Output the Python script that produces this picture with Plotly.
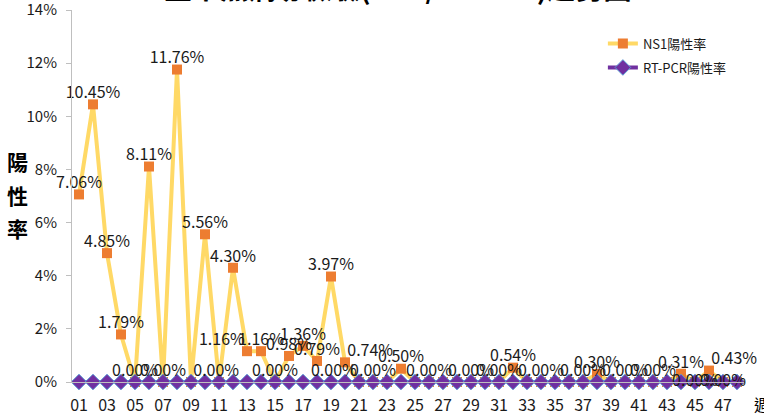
import plotly.graph_objects as go

weeks = ["01","02","03","04","05","06","07","08","09","10","11","12","13","14","15","16",
         "17","18","19","20","21","22","23","24","25","26","27","28","29","30","31","32",
         "33","34","35","36","37","38","39","40","41","42","43","44","45","46","47","48"]
tick_labels = ["01","03","05","07","09","11","13","15","17","19","21","23","25","27","29",
               "31","33","35","37","39","41","43","45","47"]
y_ticks = [0, 2, 4, 6, 8, 10, 12, 14]
ns1 = [7.06, 10.45, 4.85, 1.79, 0, 8.11, 0, 11.76, 0, 5.56,
       0, 4.30, 1.16, 1.16, 0, 0.98, 1.36, 0.79, 3.97, 0.74,
       0, 0, 0, 0.50, 0, 0, 0, 0, 0, 0, 0,
       0.54, 0, 0, 0, 0, 0, 0.30, 0, 0, 0, 0, 0, 0.31, 0, 0.43, 0, 0]
rtpcr = [0, 0, 0, 0, 0, 0, 0, 0, 0, 0, 0, 0, 0, 0, 0, 0,
         0, 0, 0, 0, 0, 0, 0, 0, 0, 0, 0, 0, 0, 0, 0, 0,
         0, 0, 0, 0, 0, 0, 0, 0, 0, 0, 0, 0, 0, 0, 0, 0]
# which NS1 points carry a data label, and where the label sits
label_pos = {"01": "top center", "02": "top center", "03": "top center", "04": "top center",
             "05": "top center", "06": "top center", "07": "top center", "08": "top center",
             "09": "top right", "10": "top center", "12": "top center", "13": "top left",
             "14": "top center", "15": "top center", "16": "top center", "17": "top center",
             "18": "top center", "19": "top center", "20": "top right", "21": "top left",
             "22": "top center", "24": "top center", "26": "top center", "29": "top center",
             "31": "top center", "32": "top center", "34": "top center", "37": "top center",
             "38": "top center", "40": "top center", "42": "top center", "44": "top center",
             "45": "middle center", "46": "top right", "47": "middle center"}

FONT = "Noto Sans CJK TC, Noto Sans, sans-serif"

texts = [f"{v:.2f}%" if w in label_pos else "" for w, v in zip(weeks, ns1)]
positions = [label_pos.get(w, "top center") for w in weeks]

fig = go.Figure()
fig.add_trace(go.Scatter(
    x=weeks, y=ns1, mode="lines+markers", name="NS1陽性率", legendgroup="a",
    line=dict(color="#FFD966", width=4), cliponaxis=False,
    marker=dict(symbol="square", size=10, color="#ED7D31"),
))
fig.add_trace(go.Scatter(
    x=weeks, y=rtpcr, mode="lines+markers", name="RT-PCR陽性率", legendgroup="b",
    line=dict(color="#7030A0", width=4), cliponaxis=False,
    marker=dict(symbol="diamond", size=12, color="#7030A0",
                line=dict(color="#5B9BD5", width=1)),
))
fig.add_trace(go.Scatter(
    x=weeks, y=ns1, mode="markers+text", showlegend=False, hoverinfo="skip",
    marker=dict(size=2, color="rgba(0,0,0,0)"), cliponaxis=False,
    text=texts, textposition=positions,
    textfont=dict(family=FONT, size=16, color="#1a1a1a"),
))

fig.update_layout(
    width=764, height=416,
    margin=dict(l=72, r=20, t=10, b=34),
    paper_bgcolor="white", plot_bgcolor="white",
    font=dict(family=FONT, color="#1a1a1a"),
    showlegend=True,
    legend=dict(x=0.79, y=0.95, xanchor="left", yanchor="top",
                bgcolor="rgba(0,0,0,0)", font=dict(size=13, family=FONT),
                traceorder="grouped", tracegroupgap=4),
)
fig.update_xaxes(
    type="category", categoryorder="array", categoryarray=weeks,
    tickmode="array", tickvals=tick_labels, ticktext=tick_labels,
    showgrid=False, showline=True, linecolor="#BFBFBF", linewidth=1,
    ticks="", tickfont=dict(size=16, family=FONT), ticklabelstandoff=9,
    range=[-0.5, len(weeks) - 0.5], zeroline=False, automargin=False,
)
fig.update_yaxes(
    range=[0, 14.001], tickmode="array", tickvals=y_ticks,
    ticktext=[f"{t}%" for t in y_ticks],
    showgrid=False, showline=True, linecolor="#BFBFBF", linewidth=1,
    ticks="outside", ticklen=5, tickcolor="#BFBFBF", ticklabeloverflow="allow",
    tickfont=dict(size=15, family=FONT), ticklabelstandoff=6, zeroline=False,
    automargin=False,
)

# chart title (mostly above the visible page)
fig.add_annotation(text="<b>登革熱病毒檢驗(NS1/RT-PCR)趨勢圖</b>", xref="paper", yref="paper",
                   x=(397 - 72) / 672, y=1 + 23 / 372, xanchor="center", yanchor="middle",
                   showarrow=False, font=dict(size=28, family=FONT, color="#000"))
# y-axis title, stacked characters
for ch, py in zip(["陽", "性", "率"], [161, 195, 228]):
    fig.add_annotation(text=f"<b>{ch}</b>", xref="paper", yref="paper",
                       x=(18 - 72) / 672, y=1 - (py - 10) / 372,
                       xanchor="center", yanchor="middle", showarrow=False,
                       font=dict(size=21, family=FONT, color="#000"))
# x-axis title
fig.add_annotation(text="週", xref="paper", yref="paper",
                   x=(752 - 72) / 672, y=-(404 - 382) / 372,
                   xanchor="left", yanchor="middle", showarrow=False,
                   font=dict(size=16, family=FONT, color="#000"))

fig.write_html("out.html", config={"displayModeBar": False},
               post_script="document.body.style.margin='0';")
